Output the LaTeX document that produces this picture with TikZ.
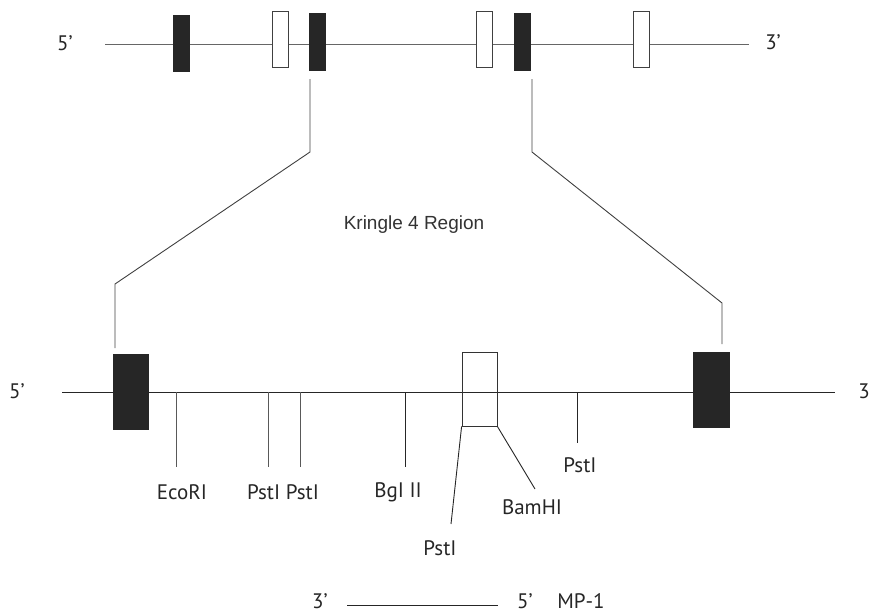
\documentclass[tikz,border=0pt]{standalone}
\usepackage{fontspec}
\setmainfont{PT Sans}
\newfontfamily\arialfont{Liberation Sans}
\begin{document}
\begin{tikzpicture}[x=1pt,y=-1pt,
  lbl/.style={font=\fontsize{21}{22}\selectfont, text=black!85, inner sep=0pt, anchor=center},
  klbl/.style={font=\arialfont\fontsize{19}{20}\selectfont, text=black!80, inner sep=0pt},
  blk/.style={draw=black!85, fill=black!85, line width=0.8pt, inner sep=0pt, rectangle},
  opn/.style={draw=black!75, fill=white, line width=0.8pt, inner sep=0pt, rectangle},
  opnl/.style={draw=black!80, line width=0.8pt, inner sep=0pt, rectangle},
  dna/.style={draw=black!60, line width=1pt},
  dnab/.style={draw=black!85, line width=0.9pt},
  conn/.style={draw=black!75, line width=0.9pt},
  site/.style={draw=black!65, line width=0.9pt}]
\useasboundingbox (0,0) rectangle (869,614);

% top gene
\coordinate (L1) at (105,44);
\coordinate (R1) at (749,44);
\draw[dna] (L1) -- (R1);
\node[lbl] (t5p) at (65,43) {5'};
\node[lbl] (t3p) at (773,42) {3'};
\node[blk, minimum width=16pt, minimum height=56pt] (t1) at (181,43) {};
\node[opn, minimum width=16pt, minimum height=56pt] (t2) at (280,39) {};
\node[blk, minimum width=16pt, minimum height=57pt] (t3) at (317.5,41.5) {};
\node[opn, minimum width=16pt, minimum height=56pt] (t4) at (484,39) {};
\node[blk, minimum width=16pt, minimum height=57pt] (t5) at (522.5,41.5) {};
\node[opn, minimum width=16pt, minimum height=56pt] (t6) at (641,39) {};

\node[klbl] (kr) at (414,225) {Kringle 4 Region};

% lower gene
\coordinate (L2) at (62,392);
\coordinate (R2) at (835,392);
\draw[dnab] (L2) -- (R2);
\node[lbl] (b5p) at (17,391) {5'};
\node[lbl] (b3p) at (864,391) {3};
\node[blk, minimum width=35pt, minimum height=75pt] (b1) at (130.5,391.5) {};
\node[opnl, minimum width=35pt, minimum height=74pt] (b2) at (479.5,389) {};
\node[blk, minimum width=36pt, minimum height=75pt] (b3) at (711,389.5) {};

% zoom connectors
\coordinate (za) at (310,79);
\coordinate (zb) at (310,152);
\coordinate (zc) at (115,284);
\coordinate (zd) at (115,348);
\draw[conn] (za) -- (zb) -- (zc) -- (zd);
\coordinate (ya) at (532,79);
\coordinate (yb) at (532,152);
\coordinate (yc) at (722,303);
\coordinate (yd) at (722,344);
\draw[conn] (ya) -- (yb) -- (yc) -- (yd);

% restriction sites
\coordinate (s1) at (176,392); \coordinate (e1) at (176,467);
\coordinate (s2) at (268,392); \coordinate (e2) at (268,467);
\coordinate (s3) at (300,392); \coordinate (e3) at (300,467);
\coordinate (s4) at (405,392); \coordinate (e4) at (405,467);
\coordinate (s5) at (577,392); \coordinate (e5) at (577,443);
\coordinate (e6) at (535,489);
\coordinate (e7) at (451,524);
\draw[site] (s1) -- (e1);
\draw[site] (s2) -- (e2);
\draw[site] (s3) -- (e3);
\draw[dnab] (s4) -- (e4);
\draw[dnab] (s5) -- (e5);
\draw[dnab] (b2.south east) -- (e6);
\draw[dnab] (b2.south west) -- (e7);

\node[lbl] (eco) at (182,492) {EcoRI};
\node[lbl] (pst1) at (283,492) {PstI PstI};
\node[lbl] (bgl) at (398,492) {BgI II};
\node[lbl] (pst3) at (580,465) {PstI};
\node[lbl] (bam) at (532,507) {BamHI};
\node[lbl] (pst4) at (440,548) {PstI};

% probe
\node[lbl] (m3) at (320,601) {3'};
\node[lbl] (m5) at (525,601) {5'};
\node[lbl] (mp) at (581,601) {MP-1};
\coordinate (ma) at (347,605);
\coordinate (mb) at (498,605);
\draw[dnab] (ma) -- (mb);
\end{tikzpicture}
\end{document}
